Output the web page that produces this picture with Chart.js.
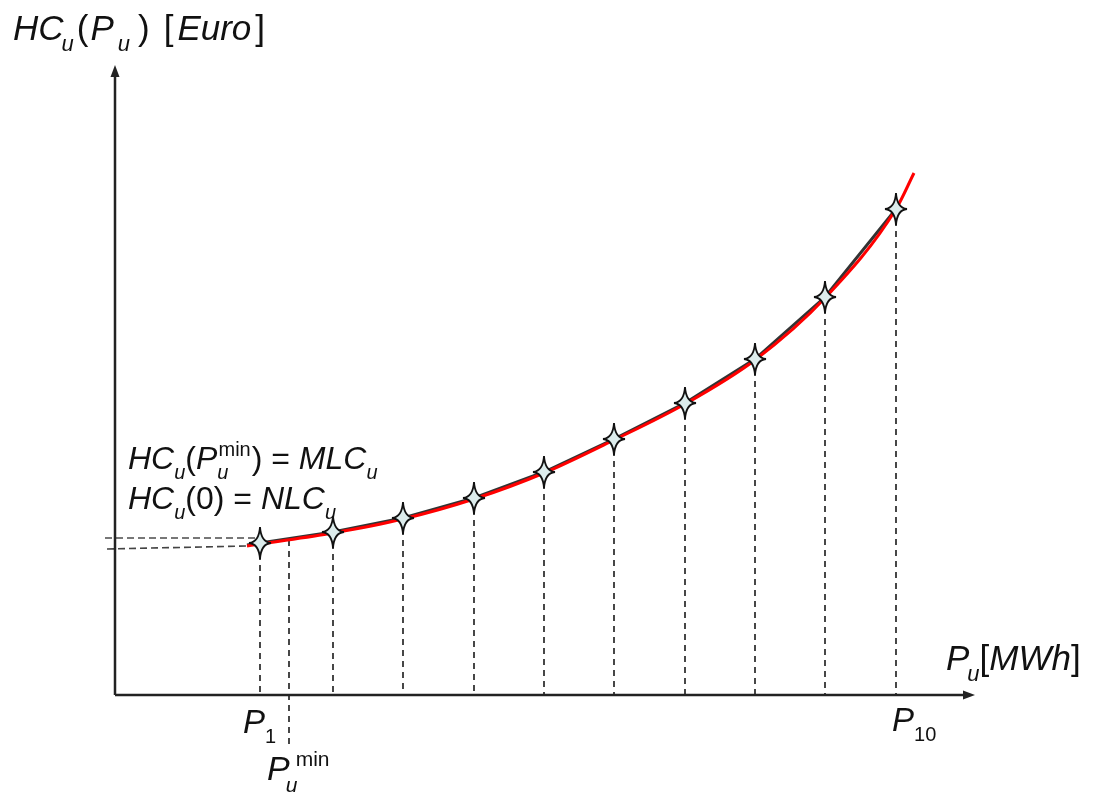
<!DOCTYPE html>
<html>
<head>
    <title>Heat cost curve</title>
    <script src="https://cdn.jsdelivr.net/npm/chart.js@4"></script>
    <style>
        body {
            margin: 0;
            background: #fff;
        }
        .container {
            width: 1096px;
            height: 792px;
            position: relative;
        }
    </style>
</head>
<body>
    <div class="container">
        <canvas id="costChart"></canvas>
    </div>
    <script>
        // sample points P1..P10 (x) and cost at each (y)
        const pointX = [14.5, 21.8, 28.8, 35.9, 42.9, 49.9, 57.0, 64.0, 71.0, 78.1];
        const pointY = [15.2, 16.3, 17.7, 19.7, 22.3, 25.6, 29.2, 33.6, 39.8, 48.6];

        // smooth (red) cost curve
        const curveX = [13.2, 14.5, 21.8, 28.8, 35.9, 42.9, 49.9, 57.0, 64.0, 71.0, 78.1, 79.9];
        const curveY = [14.9, 15.1, 16.2, 17.6, 19.6, 22.2, 25.5, 29.1, 33.5, 39.7, 48.6, 52.2];

        // piecewise linear (black) approximation, starts at the curve start
        const linStart = [13.2, 15.0];

        // P_u^min point, and the MLC / NLC levels
        const pMin = [17.4, 15.5];
        const mlcLine = [[-1.0, 15.7], [14.0, 15.7]];
        const nlcLine = [[-0.8, 14.6], [13.2, 14.9]];

        // axis extents
        const xAxisEnd = 86.0;
        const yAxisEnd = 63.0;

        // a four pointed star used as marker
        function makeStar() {
            const c = document.createElement("canvas");
            c.width = 24;
            c.height = 34;
            const g = c.getContext("2d");
            const cx = 12, cy = 17;
            g.beginPath();
            g.moveTo(cx, 1);
            g.quadraticCurveTo(cx + 1, cy - 1, 23, cy);
            g.quadraticCurveTo(cx + 1, cy + 1, cx, 33);
            g.quadraticCurveTo(cx - 1, cy + 1, 1, cy);
            g.quadraticCurveTo(cx - 1, cy - 1, cx, 1);
            g.closePath();
            g.fillStyle = "#dcecec";
            g.fill();
            g.lineWidth = 1.8;
            g.strokeStyle = "#111";
            g.stroke();
            return c;
        }

        const linePoints = [{ x: linStart[0], y: linStart[1] }].concat(
            pointX.map((x, i) => ({ x: x, y: pointY[i] })));
        const curvePoints = curveX.map((x, i) => ({ x: x, y: curveY[i] }));
        const markerPoints = pointX.map((x, i) => ({ x: x, y: pointY[i] }));

        // draws text made of runs: [text, kind, extra gap after]
        function drawRuns(ctx, runs, x, y, size) {
            const fam = "px 'Liberation Sans', Arial";
            const small = Math.round(size * 0.62);
            for (const r of runs) {
                const t = r[0], kind = r[1];
                let font, dy = 0;
                if (kind === "i") font = "italic " + size + fam;
                else if (kind === "n") font = size + fam;
                else if (kind === "sub") { font = "italic " + small + fam; dy = size * 0.3; }
                else if (kind === "subn") { font = small + fam; dy = size * 0.3; }
                else if (kind === "sup") { font = small + fam; dy = -size * 0.42; }
                ctx.font = font;
                ctx.fillText(t, x, y + dy);
                x += ctx.measureText(t).width;
                if (r[2]) x += r[2];
            }
        }

        const guides = {
            id: "guides",
            beforeDatasetsDraw(chart) {
                const ctx = chart.ctx;
                const xs = chart.scales.x, ys = chart.scales.y;
                const px = v => xs.getPixelForValue(v);
                const py = v => ys.getPixelForValue(v);
                ctx.save();

                // drop lines from each point to the x axis
                ctx.setLineDash([6, 5]);
                ctx.lineWidth = 1.8;
                ctx.strokeStyle = "#333";
                pointX.forEach((x, i) => {
                    ctx.beginPath();
                    ctx.moveTo(px(x), py(pointY[i]));
                    ctx.lineTo(px(x), py(0));
                    ctx.stroke();
                });
                ctx.beginPath();
                ctx.moveTo(px(pMin[0]), py(pMin[1]));
                ctx.lineTo(px(pMin[0]), py(-5.3));
                ctx.stroke();

                // MLC and NLC levels
                ctx.strokeStyle = "#777";
                ctx.lineWidth = 2;
                ctx.setLineDash([7, 4]);
                ctx.beginPath();
                ctx.moveTo(px(mlcLine[0][0]), py(mlcLine[0][1]));
                ctx.lineTo(px(mlcLine[1][0]), py(mlcLine[1][1]));
                ctx.stroke();
                ctx.strokeStyle = "#444";
                ctx.lineWidth = 1.6;
                ctx.beginPath();
                ctx.moveTo(px(nlcLine[0][0]), py(nlcLine[0][1]));
                ctx.lineTo(px(nlcLine[1][0]), py(nlcLine[1][1]));
                ctx.stroke();
                ctx.setLineDash([]);

                // axes with arrows
                const ox = px(0), oy = py(0);
                ctx.strokeStyle = "#222";
                ctx.fillStyle = "#222";
                ctx.lineWidth = 2.5;
                ctx.beginPath();
                ctx.moveTo(ox, oy);
                ctx.lineTo(px(xAxisEnd) - 8, oy);
                ctx.moveTo(ox, oy);
                ctx.lineTo(ox, py(yAxisEnd) + 8);
                ctx.stroke();
                ctx.beginPath();
                ctx.moveTo(px(xAxisEnd), oy);
                ctx.lineTo(px(xAxisEnd) - 12, oy - 4.5);
                ctx.lineTo(px(xAxisEnd) - 12, oy + 4.5);
                ctx.closePath();
                ctx.fill();
                ctx.beginPath();
                ctx.moveTo(ox, py(yAxisEnd));
                ctx.lineTo(ox - 4.5, py(yAxisEnd) + 12);
                ctx.lineTo(ox + 4.5, py(yAxisEnd) + 12);
                ctx.closePath();
                ctx.fill();

                // texts
                ctx.fillStyle = "#111";
                ctx.textBaseline = "alphabetic";
                drawRuns(ctx, [["HC", "i", -2], ["u", "sub", 3], ["(", "n", 2], ["P", "i", 4], ["u", "sub", 8], [")", "n", 14], ["[", "n", 4], ["Euro", "i", 4], ["]", "n"]], 13, 40, 35);
                drawRuns(ctx, [["P", "i", -2], ["u", "sub"], ["[", "n"], ["MWh", "i"], ["]", "n"]], 946, 670, 35);
                drawRuns(ctx, [["P", "i"], ["1", "subn"]], px(pointX[0]) - 17, 733, 33);
                drawRuns(ctx, [["P", "i"], ["10", "subn"]], px(pointX[9]) - 4, 731, 33);
                ctx.font = "italic 34px 'Liberation Sans', Arial";
                const pw = ctx.measureText("P").width;
                const pmx = px(pMin[0]) - 22;
                drawRuns(ctx, [["P", "i"]], pmx, 780, 34);
                drawRuns(ctx, [["u", "sub"]], pmx + pw - 4, 782, 34);
                drawRuns(ctx, [["min", "sup"]], pmx + pw + 6, 780, 34);

                drawRuns(ctx, [["HC", "i"], ["u", "sub"], ["(", "n"], ["P", "i"], ["u", "sub", -10], ["min", "sup", 1], [")", "n"], [" = ", "n"], ["MLC", "i"], ["u", "sub"]], 128, 469, 32);
                drawRuns(ctx, [["HC", "i"], ["u", "sub"], ["(0)", "n"], [" = ", "n"], ["NLC", "i"], ["u", "sub"]], 128, 509, 32);
                ctx.restore();
            }
        };

        const star = makeStar();

        new Chart(document.getElementById("costChart"), {
            type: "scatter",
            data: {
                datasets: [
                    {
                        data: markerPoints,
                        showLine: false,
                        pointStyle: star,
                        order: 0
                    },
                    {
                        data: curvePoints,
                        showLine: true,
                        borderColor: "#ff0000",
                        borderWidth: 3,
                        pointRadius: 0,
                        cubicInterpolationMode: "monotone",
                        order: 1
                    },
                    {
                        data: linePoints,
                        showLine: true,
                        borderColor: "#333",
                        borderWidth: 3,
                        pointRadius: 0,
                        tension: 0,
                        order: 2
                    }
                ]
            },
            options: {
                responsive: true,
                maintainAspectRatio: false,
                animation: false,
                clip: false,
                layout: { padding: 0, autoPadding: false },
                plugins: {
                    legend: { display: false },
                    tooltip: { enabled: false }
                },
                scales: {
                    x: { type: "linear", min: -11.5, max: 98.1, display: false },
                    y: { type: "linear", min: -9.7, max: 69.5, display: false }
                }
            },
            plugins: [guides]
        });
    </script>
</body>
</html>
